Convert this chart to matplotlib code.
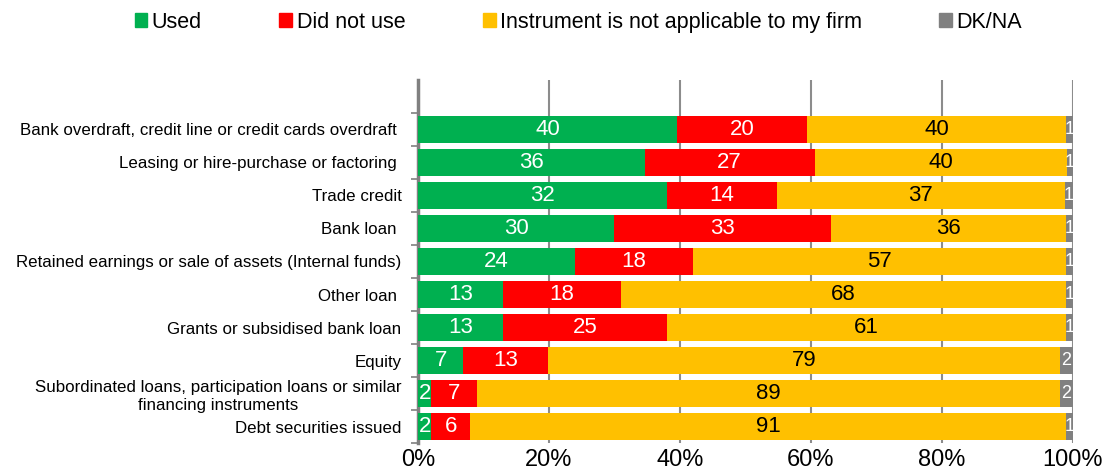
import numpy as np
import matplotlib.pyplot as plt
from matplotlib.patches import Patch

plt.rcParams['font.family'] = ['Liberation Sans', 'DejaVu Sans']

# 数据
categories = [
    "Bank overdraft, credit line or credit cards overdraft ",
    "Leasing or hire-purchase or factoring ",
    "Trade credit",
    "Bank loan ",
    "Retained earnings or sale of assets (Internal funds)",
    "Other loan ",
    "Grants or subsidised bank loan",
    "Equity",
    "Subordinated loans, participation loans or similar\nfinancing instruments",
    "Debt securities issued",
]
used = [40, 36, 32, 30, 24, 13, 13, 7, 2, 2]
did_not_use = [20, 27, 14, 33, 18, 18, 25, 13, 7, 6]
not_applicable = [40, 40, 37, 36, 57, 68, 61, 79, 89, 91]
dk_na = [1, 1, 1, 1, 1, 1, 1, 2, 2, 1]

series_names = ["Used", "Did not use", "Instrument is not applicable to my firm", "DK/NA"]
colors = ["#00B050", "#FF0000", "#FFC000", "#808080"]
text_colors = ["white", "white", "black", "white"]

vals = np.array([used, did_not_use, not_applicable, dk_na], dtype=float)
shares = vals / vals.sum(axis=0) * 100

fig = plt.figure(figsize=(11.06, 4.75), dpi=100)
ax = fig.add_axes([0.378, 0.067, 0.592, 0.765])

y = np.arange(len(categories))
left = np.zeros(len(categories))
for k in range(4):
    ax.barh(y, shares[k], left=left, height=0.8, color=colors[k], zorder=3)
    for i in range(len(categories)):
        fs = 16 if k < 3 else 13
        ax.text(left[i] + shares[k][i] / 2, y[i], "%d" % vals[k][i],
                ha='center', va='center', color=text_colors[k], fontsize=fs, zorder=4)
    left += shares[k]

ax.set_xlim(0, 100)
ax.set_ylim(9.5, -1.5)
ax.set_xticks(np.arange(0, 101, 20))
ax.set_xticklabels(["%d%%" % v for v in range(0, 101, 20)], fontsize=17)
ax.set_yticks(y)
ax.set_yticklabels(categories, fontsize=12.2, multialignment='center')
ax.set_yticks(np.arange(-0.5, 10, 1), minor=True)
ax.tick_params(axis='y', which='major', length=0, pad=12)
ax.tick_params(axis='y', which='minor', length=5, width=1.2, color='#808080', direction='out')
ax.tick_params(axis='x', length=0, pad=4)
ax.grid(axis='x', color='#8c8c8c', linewidth=1.5, zorder=0)
for s in ['top', 'right', 'bottom']:
    ax.spines[s].set_visible(False)
ax.spines['left'].set_color('#808080')
ax.spines['left'].set_linewidth(2.5)

handles = [Patch(color=c) for c in colors]
fig.legend(handles, series_names, loc='center', bbox_to_anchor=(0.523, 0.953), ncol=4,
           frameon=False, fontsize=15.5, handlelength=0.6, handleheight=0.6,
           handletextpad=0.2, columnspacing=3.6)

fig.savefig("out.png", dpi=100)
